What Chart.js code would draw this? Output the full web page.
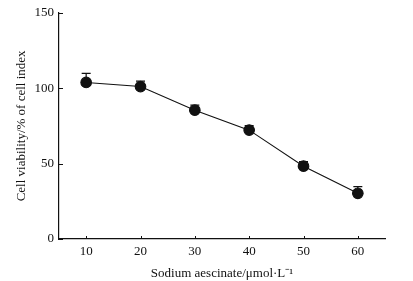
<!DOCTYPE html>
<html>
<head>
<meta charset="utf-8">
<script src="https://cdn.jsdelivr.net/npm/chart.js@4"></script>
<style>
  html, body { margin: 0; padding: 0; background: #fff; }
  #wrap { width: 413px; height: 281px; }
</style>
</head>
<body>
<div id="wrap"><canvas id="viabilityChart" width="413" height="281"></canvas></div>
<script>
// concentrations (µmol/L) and viability (% of cell index)
const doses = [10, 20, 30, 40, 50, 60];
const viability = [103.8, 101.1, 85.4, 72.2, 48.3, 30.3];
const sdErr = [6.0, 3.6, 3.4, 3.0, 3.0, 4.4];
const xTicks = [10, 20, 30, 40, 50, 60];
const yTicks = [0, 50, 100, 150];

const font = { family: '"Liberation Serif", "Times New Roman", serif', size: 13 };

// only the upper half of the error bar is drawn, like the original
const errorBars = {
    id: 'errorBars',
    beforeDatasetsDraw(chart) {
        const ctx = chart.ctx;
        const xs = chart.scales.x;
        const ys = chart.scales.y;
        ctx.save();
        ctx.strokeStyle = '#111';
        ctx.lineWidth = 1.2;
        doses.forEach((d, i) => {
            const px = xs.getPixelForValue(d);
            const p0 = ys.getPixelForValue(viability[i]);
            const p1 = ys.getPixelForValue(viability[i] + sdErr[i]);
            ctx.beginPath();
            ctx.moveTo(px, p0);
            ctx.lineTo(px, p1);
            ctx.moveTo(px - 4.5, p1);
            ctx.lineTo(px + 4.5, p1);
            ctx.stroke();
        });
        ctx.restore();
    }
};

// tick marks point into the plot area
const innerTicks = {
    id: 'innerTicks',
    afterDraw(chart) {
        const ctx = chart.ctx;
        const xs = chart.scales.x;
        const ys = chart.scales.y;
        ctx.save();
        ctx.strokeStyle = '#111';
        ctx.lineWidth = 1;
        ctx.beginPath();
        xs.ticks.forEach(t => {
            const px = Math.round(xs.getPixelForValue(t.value)) + 0.5;
            ctx.moveTo(px, xs.top);
            ctx.lineTo(px, xs.top - 3);
        });
        ys.ticks.forEach(t => {
            const py = Math.round(ys.getPixelForValue(t.value)) + 0.5;
            ctx.moveTo(ys.right, py);
            ctx.lineTo(ys.right + 4, py);
        });
        ctx.stroke();
        ctx.restore();
    }
};

const ctx = document.getElementById('viabilityChart').getContext('2d');
const myChart = new Chart(ctx, {
    type: 'line',
    data: {
        datasets: [{
            data: doses.map((d, i) => ({ x: d, y: viability[i] })),
            borderColor: '#111',
            borderWidth: 1.1,
            pointRadius: 5.3,
            pointBackgroundColor: '#111',
            pointBorderColor: '#111',
            tension: 0
        }]
    },
    options: {
        responsive: false,
        animation: false,
        layout: { padding: { top: 12, right: 28, left: 10, bottom: 0 } },
        plugins: { legend: { display: false }, tooltip: { enabled: false } },
        scales: {
            x: {
                type: 'linear',
                min: 5,
                max: 65,
                afterBuildTicks: (s) => { s.ticks = xTicks.map(v => ({ value: v })); },
                afterFit: (s) => { s.height = 42; },
                grid: { display: false, drawTicks: false },
                border: { color: '#111', width: 1.2 },
                ticks: { color: '#111', font: font, padding: 5, maxRotation: 0 },
                title: {
                    display: true,
                    text: 'Sodium aescinate/\u03bcmol\u00b7L\u207b\u00b9',
                    color: '#111',
                    font: font,
                    padding: { top: 4, bottom: 0 }
                }
            },
            y: {
                min: 0,
                max: 150,
                afterBuildTicks: (s) => { s.ticks = yTicks.map(v => ({ value: v })); },
                afterFit: (s) => { s.width = 49; },
                grid: { display: false, drawTicks: false },
                border: { color: '#111', width: 1.2 },
                ticks: { color: '#111', font: font, padding: 5 },
                title: {
                    display: true,
                    text: 'Cell viability/% of cell index',
                    color: '#111',
                    font: font,
                    padding: { bottom: 0 }
                }
            }
        }
    },
    plugins: [errorBars, innerTicks]
});
</script>
</body>
</html>
